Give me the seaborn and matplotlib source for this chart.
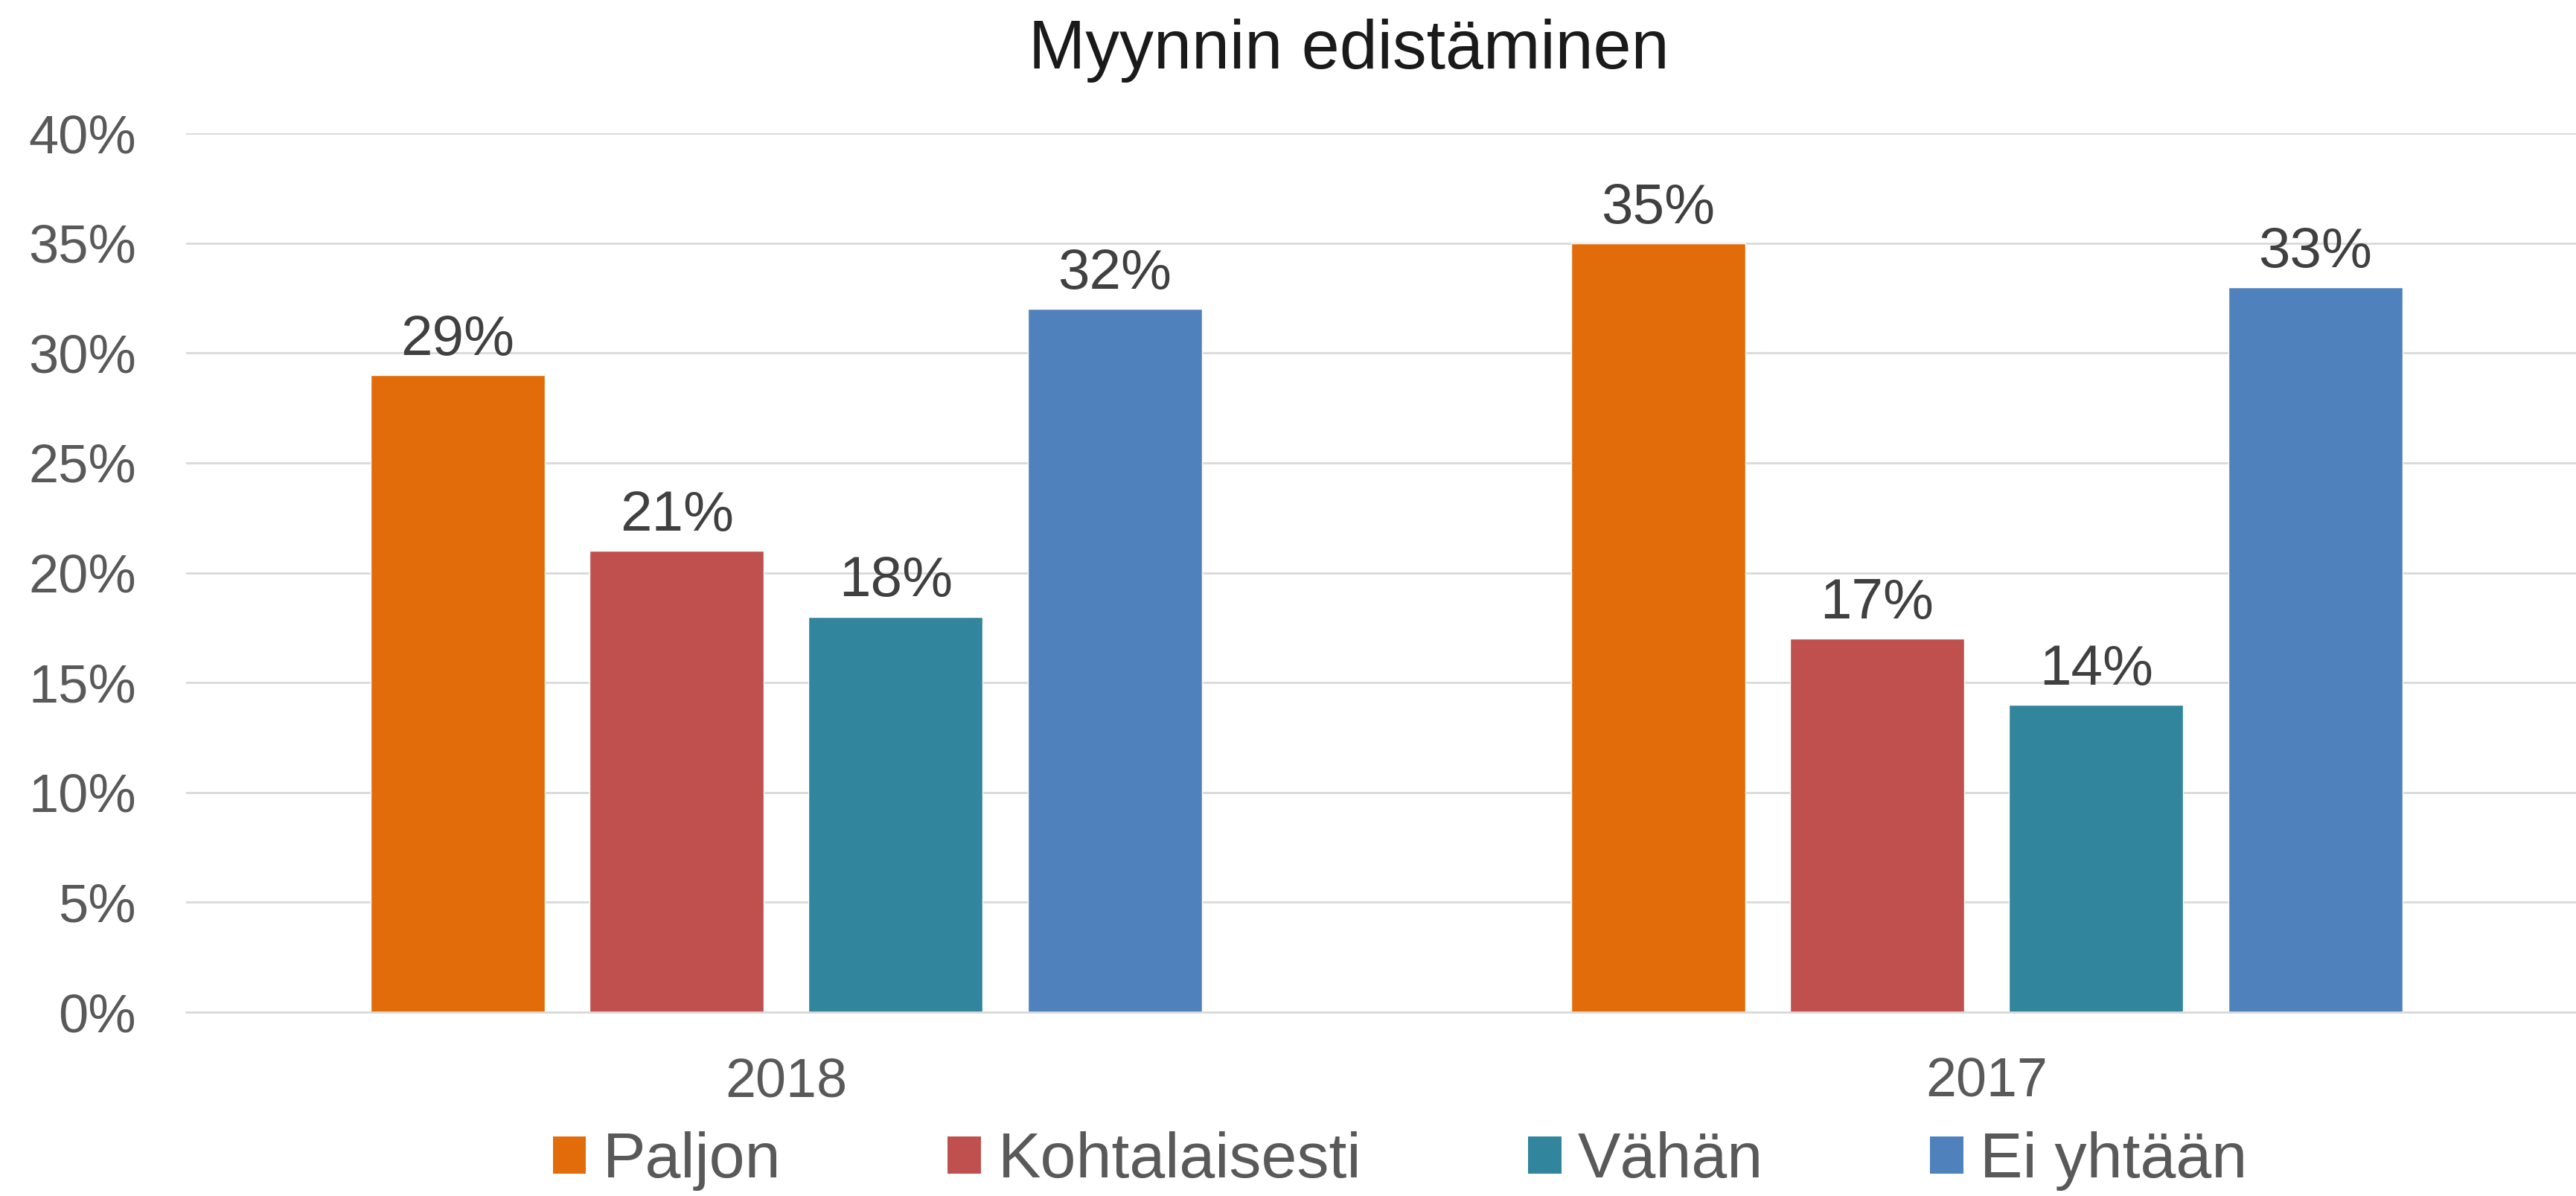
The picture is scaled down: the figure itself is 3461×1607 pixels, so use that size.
import numpy as np
import pandas as pd
import matplotlib
matplotlib.use('Agg')
from matplotlib import pyplot as plt
from matplotlib.patches import Patch
from matplotlib.ticker import PercentFormatter
import seaborn as sns

years = ['2018', '2017']
answers = ['Paljon', 'Kohtalaisesti', 'Vähän', 'Ei yhtään']
values_2018 = [0.29, 0.21, 0.18, 0.32]
values_2017 = [0.35, 0.17, 0.14, 0.33]
colors = ['#E36C0A', '#C0504D', '#31859C', '#4F81BD']

sns.set_style('white')
plt.rcParams['font.family'] = ['Liberation Sans', 'DejaVu Sans']

df = pd.DataFrame({
    'year': [years[0]] * 4 + [years[1]] * 4,
    'answer': answers * 2,
    'value': values_2018 + values_2017,
})

fig = plt.figure(figsize=(34.61, 16.07), dpi=100)
ax = fig.add_axes([0.0722, 0.1537, 0.932, 0.7349])

sns.barplot(data=df, x='year', y='value', hue='answer', order=years,
            hue_order=answers, palette=dict(zip(answers, colors)),
            width=0.73, gap=0.205, errorbar=None, saturation=1,
            legend=False, ax=ax)

# labels above bars
for cont in ax.containers:
    ax.bar_label(cont, fmt='{:.0%}', padding=8, fontsize=55, color='#404040')

ax.set_xlim(-0.5, 1.5)
ax.set_ylim(0, 0.40)
ax.set_yticks(np.arange(0, 0.41, 0.05))
ax.yaxis.set_major_formatter(PercentFormatter(1, decimals=0))
ax.grid(axis='y', color='#D9D9D9', linewidth=2)
ax.set_axisbelow(True)
for side in ['left', 'right', 'top']:
    ax.spines[side].set_visible(False)
ax.spines['bottom'].set_color('#D9D9D9')
ax.spines['bottom'].set_linewidth(2)
ax.tick_params(axis='y', length=0, pad=48, labelsize=52, labelcolor='#595959')
ax.tick_params(axis='x', length=0, pad=43, labelsize=53, labelcolor='#595959')
ax.set_xlabel('')
ax.set_ylabel('')

fig.text(0.5236, 1 - 68 / 1607, 'Myynnin edistäminen', ha='center', va='center',
         fontsize=66, color='#1a1a1a')

handles = [Patch(facecolor=c, edgecolor='none') for c in colors]
fig.legend(handles, answers, loc='center', bbox_to_anchor=(0.5435, 0.029),
           ncol=4, frameon=False, fontsize=62, labelcolor='#595959',
           handlelength=0.52, handleheight=0.52, handletextpad=0.26,
           columnspacing=2.6, borderaxespad=0)

fig.savefig('out.png', dpi=100)
